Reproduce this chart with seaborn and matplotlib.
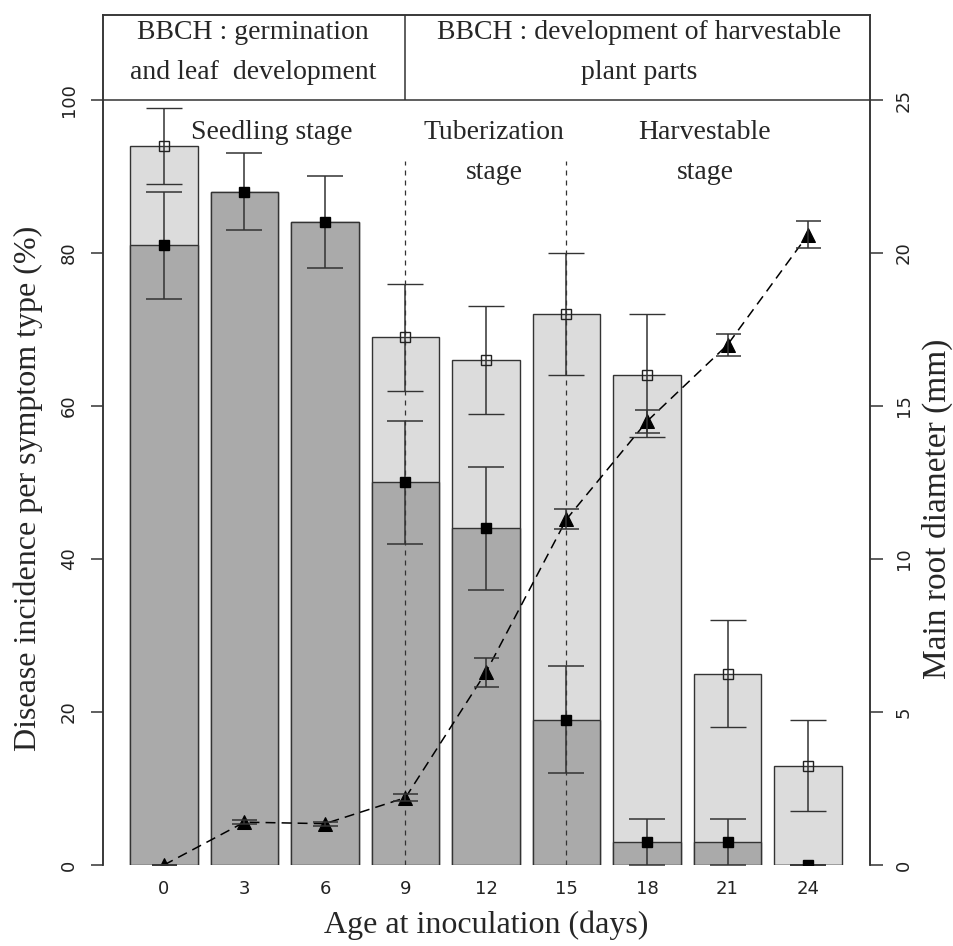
import numpy as np
import pandas as pd
import matplotlib
matplotlib.use("Agg")
import matplotlib.pyplot as plt
import seaborn as sns

# Values
days = ["0", "3", "6", "9", "12", "15", "18", "21", "24"]

# total incidence (light bars, open squares)
total_pct = [94, 88, 84, 69, 66, 72, 64, 25, 13]
open_pct = [94, np.nan, np.nan, 69, 66, 72, 64, 25, 13]
open_hi = [99, np.nan, np.nan, 76, 73, 80, 72, 32, 19]
open_lo = [89, np.nan, np.nan, 62, 59, 64, 56, 18, 7]

# second symptom type (dark bars, filled squares)
dark_pct = [81, 88, 84, 50, 44, 19, 3, 3, 0]
dark_hi = [88, 93, 90, 58, 52, 26, 6, 6, 0]
dark_lo = [74, 83, 78, 42, 36, 12, 0, 0, 0]

# main root diameter (mm), right axis
diam_mm = [0, 1.4, 1.35, 2.2, 6.3, 11.3, 14.5, 17.0, 20.6]
diam_err = [0, 0.07, 0.06, 0.12, 0.47, 0.33, 0.38, 0.36, 0.45]

sns.set_style("white")
plt.rcParams["font.family"] = ["DejaVu Sans"]
plt.rcParams["font.sans-serif"] = ["DejaVu Sans"]
serif = ["Liberation Serif", "DejaVu Serif"]

light = "#dcdcdc"
dark = "#aaaaaa"
edge = "#333333"

df = pd.DataFrame({"day": days, "total": total_pct, "dark": dark_pct})
pos = np.arange(len(days))

fig = plt.figure(figsize=(9.54, 9.46), dpi=100)
ax = fig.add_axes([103 / 954, 81 / 946, 767 / 954, 850 / 946])

sns.barplot(data=df, x="day", y="total", color=light, edgecolor=edge,
            linewidth=1.0, width=0.84, saturation=1, errorbar=None, ax=ax)
sns.barplot(data=df, x="day", y="dark", color=dark, edgecolor=edge,
            linewidth=1.0, width=0.84, saturation=1, errorbar=None, ax=ax)

op = np.array(open_pct)
ax.errorbar(pos, op, yerr=[op - np.array(open_lo), np.array(open_hi) - op],
            fmt="s", ms=7, mfc="none", mec="#222222", mew=1.0,
            ecolor=edge, elinewidth=1.1, capsize=13, capthick=1.1, zorder=5)
dp = np.array(dark_pct, dtype=float)
ax.errorbar(pos, dp, yerr=[dp - np.array(dark_lo), np.array(dark_hi) - dp],
            fmt="s", ms=7.5, mfc="black", mec="black",
            ecolor=edge, elinewidth=1.1, capsize=13, capthick=1.1, zorder=5)

# stage boundaries
ax.vlines([3, 5], 0, 92, colors=edge, linestyles=(0, (4, 4)), lw=0.9, zorder=4)

# header box
ax.axhline(100, color=edge, lw=1.1)
ax.vlines(3, 100, 112, colors=edge, lw=1.1)

ax.set_xlim(-0.757, 8.77)
ax.set_ylim(0, 111.1)
ax.set_yticks(range(0, 101, 20))
ax.tick_params(axis="y", length=9, width=1.1, color=edge, labelsize=13,
               labelrotation=90, pad=9, left=True, labelcolor="#222222")
for t in ax.get_yticklabels():
    t.set_va("center")
ax.tick_params(axis="x", length=0, labelsize=13, pad=11, labelcolor="#222222")

ax.text(1.34, 95.8, "Seedling stage", family=serif, fontsize=20, ha="center", va="center")
ax.text(4.1, 95.8, "Tuberization", family=serif, fontsize=20, ha="center", va="center")
ax.text(4.1, 90.5, "stage", family=serif, fontsize=20, ha="center", va="center")
ax.text(6.72, 95.8, "Harvestable", family=serif, fontsize=20, ha="center", va="center")
ax.text(6.72, 90.5, "stage", family=serif, fontsize=20, ha="center", va="center")

ax.text(1.11, 108.8, "BBCH : germination", family=serif, fontsize=20, ha="center", va="center")
ax.text(1.11, 103.6, "and leaf  development", family=serif, fontsize=20, ha="center", va="center")
ax.text(5.9, 108.8, "BBCH : development of harvestable", family=serif, fontsize=20, ha="center", va="center")
ax.text(5.9, 103.6, "plant parts", family=serif, fontsize=20, ha="center", va="center")

ax.set_xlabel("Age at inoculation (days)", family=serif, fontsize=23)
ax.xaxis.set_label_coords((486 - 103) / 767, (865 - 925) / 850)
ax.xaxis.label.set_va("center")
ax.set_ylabel("Disease incidence per symptom type (%)", family=serif, fontsize=23)
ax.yaxis.set_label_coords((28 - 103) / 767, (865 - 488) / 850)
ax.yaxis.label.set_va("center")

# root diameter on the right axis
ax2 = ax.twinx()
sns.lineplot(x=pos, y=diam_mm, ax=ax2, color="black", lw=1.1,
             dashes=False, marker="^", markersize=9.5, markeredgecolor="black")
ax2.lines[0].set_dashes((6.5, 4))
ax2.errorbar(pos, diam_mm, yerr=diam_err, fmt="none", ecolor=edge,
             elinewidth=1.1, capsize=9, capthick=1.1)
ax2.set_ylim(0, 27.78)
ax2.set_yticks(range(0, 26, 5))
ax2.tick_params(axis="y", length=9, width=1.1, color=edge, labelsize=13,
                labelrotation=90, pad=9, right=True, labelcolor="#222222")
for t in ax2.get_yticklabels():
    t.set_va("center")
ax2.set_ylabel("Main root diameter (mm)", family=serif, fontsize=24)
ax2.yaxis.set_label_coords((937 - 103) / 767, (865 - 509) / 850)
ax2.yaxis.label.set_va("center")

for a in (ax, ax2):
    a.spines["bottom"].set_visible(False)
    for s in ("left", "right", "top"):
        a.spines[s].set_color(edge)
        a.spines[s].set_linewidth(1.1)
ax.set_xlim(-0.757, 8.77)

fig.savefig("out.png", dpi=100)
